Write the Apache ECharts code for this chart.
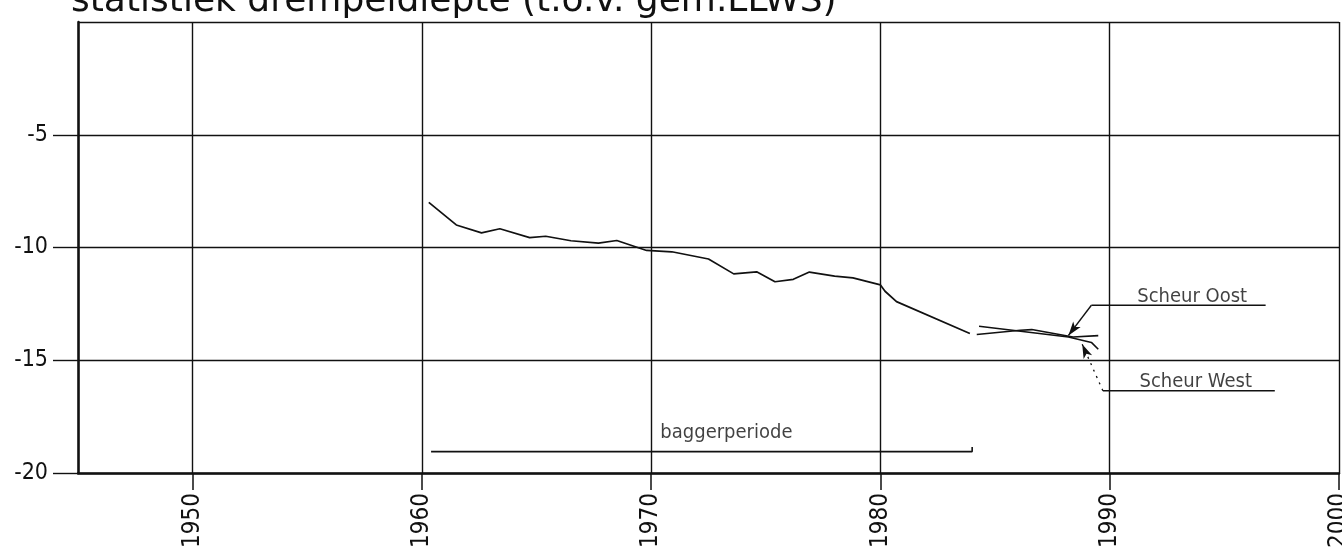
<!DOCTYPE html>
<html>
<head>
<meta charset="utf-8">
<script src="https://cdn.jsdelivr.net/npm/echarts@6/dist/echarts.min.js"></script>
<style>
  html, body { margin: 0; padding: 0; background: #fff; }
  #main { width: 1342px; height: 548px; }
</style>
</head>
<body>
<div id="main"></div>
<script>
// drempeldiepte (m)
var mainYears = [1960.3, 1961.5, 1962.6, 1963.4, 1964.7, 1965.4, 1966.5, 1967.7, 1968.5, 1969.8,
                 1970.9, 1972.5, 1973.6, 1974.6, 1975.4, 1976.2, 1976.9, 1978.0, 1978.8, 1980.0,
                 1980.2, 1980.7, 1983.9];
var mainDepth = [-8.0, -9.0, -9.35, -9.17, -9.56, -9.5, -9.7, -9.81, -9.69, -10.13,
                 -10.19, -10.51, -11.17, -11.08, -11.52, -11.41, -11.09, -11.27, -11.35, -11.66,
                 -11.94, -12.4, -13.81];

var oostYears = [1984.2, 1986.1, 1986.6, 1988.4, 1989.5];
var oostDepth = [-13.86, -13.67, -13.64, -13.97, -13.91];

var westYears = [1984.3, 1988.2, 1989.2, 1989.5];
var westDepth = [-13.49, -13.97, -14.21, -14.51];

// baggerperiode
var baggerYears = [1960.4, 1984.0, 1984.0];
var baggerDepth = [-19.05, -19.05, -18.85];

// tekstjes
var noteTexts = ['baggerperiode', 'Scheur Oost', 'Scheur West'];
var noteYears = [1970.4, 1991.2, 1991.3];
var noteDepth = [-18.65, -12.62, -16.4];

// verwijslijnen
var oostLineYears = [1996.8, 1989.2];
var oostLineDepth = [-12.56, -12.56];
var oostArrow = [[1989.2, -12.56], [1988.2, -13.9]];
var westLineYears = [1997.2, 1989.7];
var westLineDepth = [-16.35, -16.35];
var westArrow = [[1989.7, -16.35], [1988.8, -14.29]];

var yearTicks = [1950, 1960, 1970, 1980, 1990, 2000];
var depthTicks = [-5, -10, -15, -20];

function pairs(xs, ys) {
	var out = [];
	for (var i = 0; i < xs.length; i++) {
		out.push([xs[i], ys[i]]);
	}
	return out;
}

var ink = '#111';
var font = 'DejaVu Sans Condensed';

var myChart = echarts.init(document.getElementById('main'));

var notes = [];
for (var i = 0; i < noteTexts.length; i++) {
	notes.push({ name: noteTexts[i], value: [noteYears[i], noteDepth[i]] });
}

function plainLine(name, data, width, type) {
	return {
		name: name,
		type: 'line',
		data: data,
		symbol: 'none',
		silent: true,
		lineStyle: { color: ink, width: width, type: type || 'solid' }
	};
}

var oostLeader = plainLine('oost-lijn', pairs(oostLineYears, oostLineDepth), 1.4);
oostLeader.markLine = {
	silent: true,
	symbol: ['none', 'arrow'],
	symbolSize: [7, 14],
	label: { show: false },
	lineStyle: { color: ink, width: 1.4, type: 'solid' },
	data: [[{ coord: oostArrow[0] }, { coord: oostArrow[1] }]]
};

var westLeader = plainLine('west-lijn', pairs(westLineYears, westLineDepth), 1.4);
westLeader.markLine = {
	silent: true,
	symbol: ['none', 'arrow'],
	symbolSize: [7, 14],
	label: { show: false },
	lineStyle: { color: ink, width: 1.3, type: [2, 5] },
	data: [[{ coord: westArrow[0] }, { coord: westArrow[1] }]]
};

var option = {
	animation: false,
	backgroundColor: '#fff',
	title: {
		text: 'statistiek drempeldiepte (t.o.v. gem.LLWS)',
		left: 66,
		top: -21,
		textStyle: { fontFamily: 'DejaVu Sans', fontWeight: 'normal', fontSize: 36, color: ink }
	},
	grid: { left: 78, right: 3, top: 22, bottom: 75, outerBoundsMode: 'none' },
	xAxis: {
		type: 'value',
		min: 1945,
		max: 2000,
		axisLine: { onZero: false, lineStyle: { color: ink, width: 2.5 } },
		axisTick: { show: true, length: 17, lineStyle: { color: ink, width: 1.5 } },
		axisLabel: {
			rotate: 90,
			margin: 20,
			fontSize: 24,
			fontFamily: font,
			color: ink,
			showMinLabel: false,
			formatter: function (v) { return yearTicks.indexOf(v) >= 0 ? String(v) : ''; }
		},
		splitLine: { show: true, lineStyle: { color: ink, width: 1.4 } }
	},
	yAxis: {
		type: 'value',
		min: -20,
		max: 0,
		interval: 5,
		axisLine: { show: true, onZero: false, lineStyle: { color: ink, width: 2.5 } },
		axisTick: { show: true, length: 25, lineStyle: { color: ink, width: 1.4 } },
		axisLabel: {
			margin: 30,
			fontSize: 23,
			fontFamily: font,
			color: ink,
			showMaxLabel: false,
			padding: [0, 0, 10, 0],
			formatter: function (v) { return depthTicks.indexOf(v) >= 0 ? String(v) : ''; }
		},
		splitLine: { show: true, lineStyle: { color: ink, width: 1.4 } }
	},
	series: [
		plainLine('drempeldiepte', pairs(mainYears, mainDepth), 1.7),
		plainLine('Scheur Oost', pairs(oostYears, oostDepth), 1.6),
		plainLine('Scheur West', pairs(westYears, westDepth), 1.6),
		plainLine('baggerperiode', pairs(baggerYears, baggerDepth), 1.6),
		oostLeader,
		westLeader,
		{
			name: 'tekst',
			type: 'scatter',
			symbolSize: 0,
			silent: true,
			data: notes,
			label: {
				show: true,
				position: [0, 0],
				align: 'left',
				verticalAlign: 'bottom',
				formatter: '{b}',
				fontFamily: font,
				fontSize: 20,
				color: ink
			}
		}
	]
};

myChart.setOption(option);
</script>
</body>
</html>
